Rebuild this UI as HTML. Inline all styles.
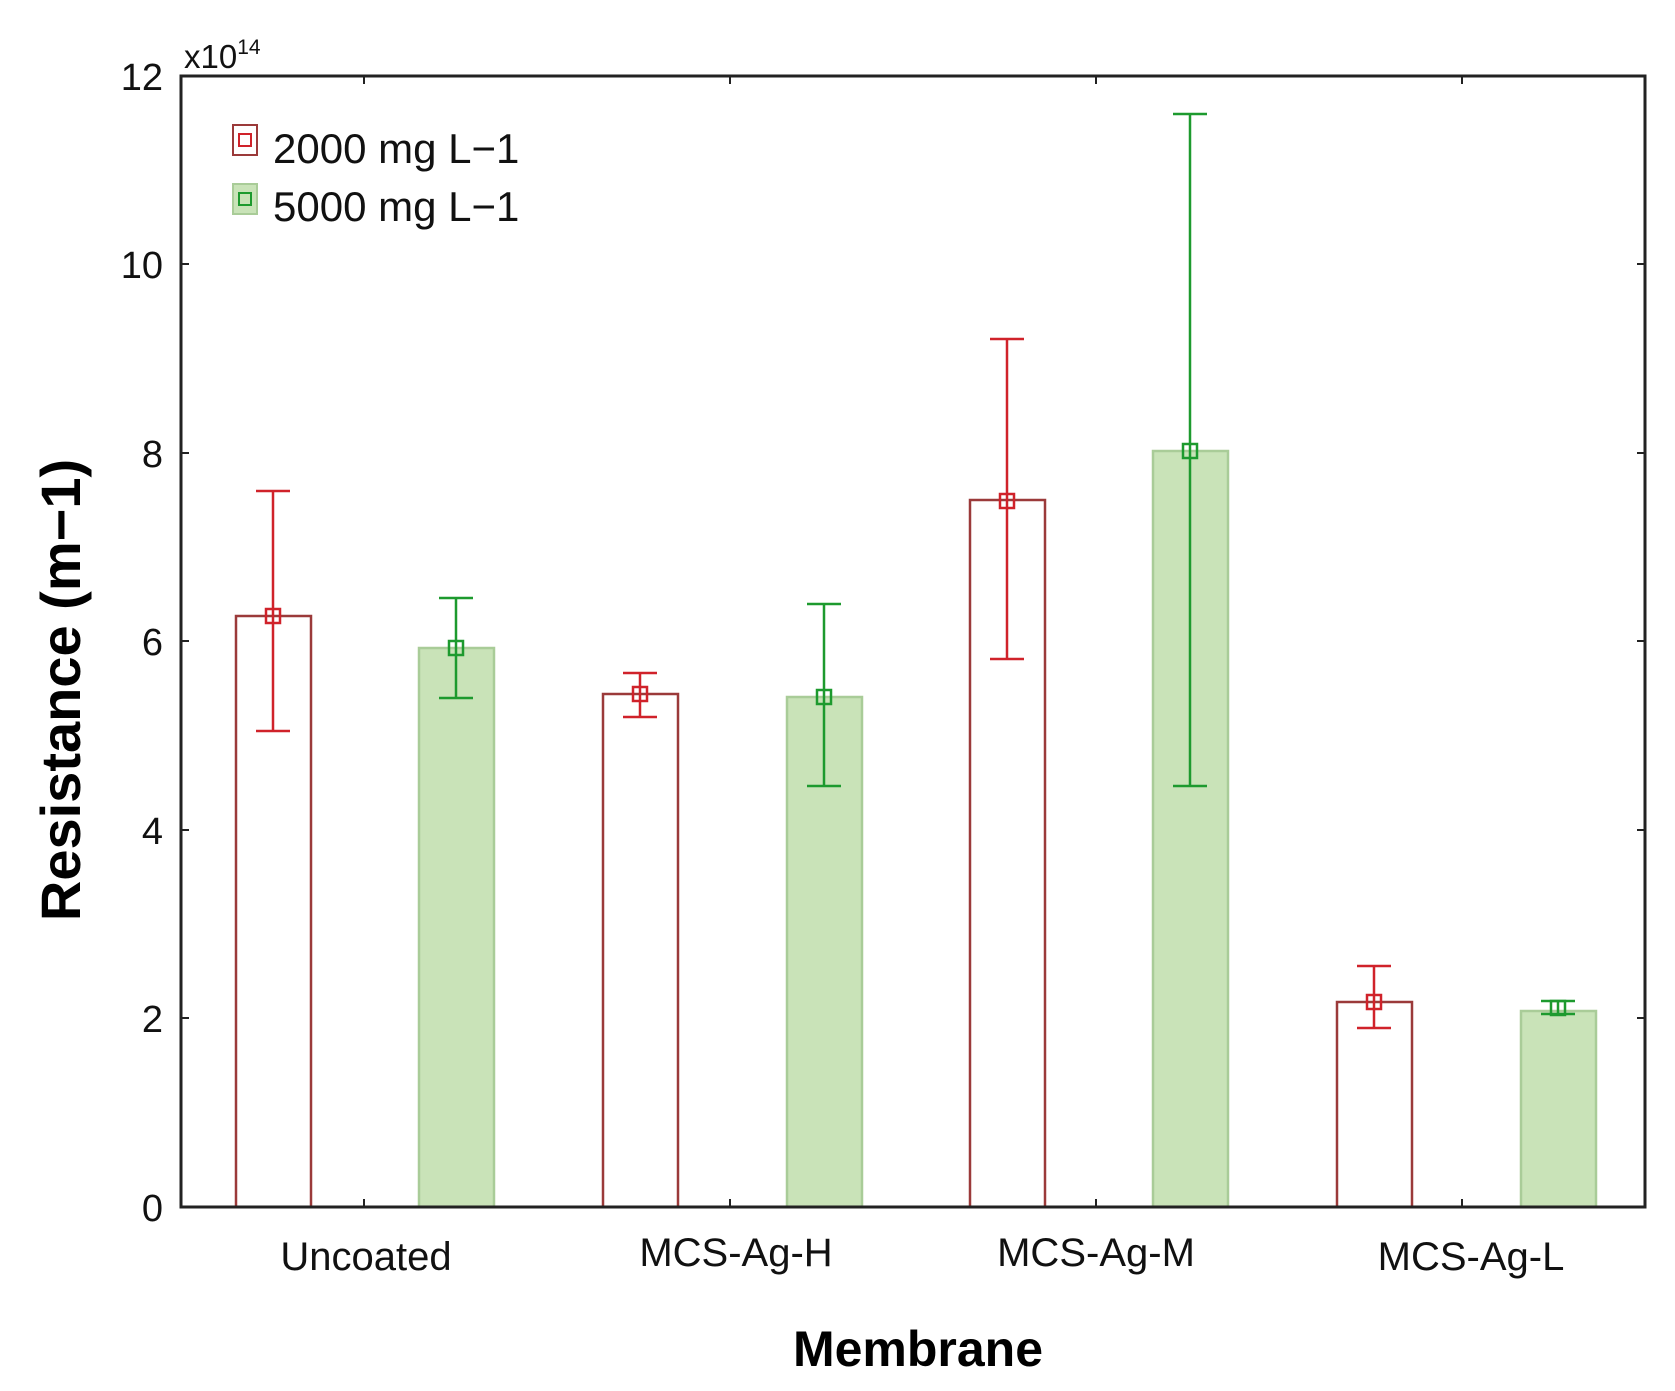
<!DOCTYPE html>
<html><head><meta charset="utf-8"><style>
html,body{margin:0;padding:0;background:#fff;}
svg{display:block;font-family:"Liberation Sans",Arial,sans-serif;}
</style></head><body>
<svg width="1675" height="1391" viewBox="0 0 1675 1391" xmlns="http://www.w3.org/2000/svg">
<g stroke-width="2.5">
<rect x="236" y="616" width="75" height="591" fill="#fff" stroke="#9b3a3a"/>
<rect x="419" y="648" width="75" height="559" fill="#c9e3b8" stroke="#a9cc98"/>
<rect x="603" y="694" width="75" height="513" fill="#fff" stroke="#9b3a3a"/>
<rect x="787" y="697" width="75" height="510" fill="#c9e3b8" stroke="#a9cc98"/>
<rect x="970" y="500" width="75" height="707" fill="#fff" stroke="#9b3a3a"/>
<rect x="1153" y="451" width="75" height="756" fill="#c9e3b8" stroke="#a9cc98"/>
<rect x="1337" y="1002" width="75" height="205" fill="#fff" stroke="#9b3a3a"/>
<rect x="1521" y="1011" width="75" height="196" fill="#c9e3b8" stroke="#a9cc98"/>
</g>
<g stroke="#d0222a" stroke-width="2.5" fill="none">
<path d="M273 491V731M256 491H290M256 731H290"/><rect x="266" y="609" width="14" height="14"/>
<path d="M640 673V717M623 673H657M623 717H657"/><rect x="633" y="687" width="14" height="14"/>
<path d="M1007 339V659M990 339H1024M990 659H1024"/><rect x="1000" y="494" width="14" height="14"/>
<path d="M1374 966V1028M1357 966H1391M1357 1028H1391"/><rect x="1367" y="995" width="14" height="14"/>
</g>
<g stroke="#1d9a2e" stroke-width="2.5" fill="none">
<path d="M456 598V698M439 598H473M439 698H473"/><rect x="449" y="641" width="14" height="14"/>
<path d="M824 604V786M807 604H841M807 786H841"/><rect x="817" y="690" width="14" height="14"/>
<path d="M1190 114V786M1173 114H1207M1173 786H1207"/><rect x="1183" y="444" width="14" height="14"/>
<path d="M1558 1001V1014M1541 1001H1575M1541 1014H1575"/><rect x="1551" y="1001" width="14" height="14"/>
</g>
<rect x="181" y="76" width="1464" height="1131" fill="none" stroke="#222" stroke-width="3"/>
<g stroke="#222" stroke-width="2">
<path d="M181 1018h8M181 830h8M181 641h8M181 453h8M181 264h8"/>
<path d="M1645 1018h-8M1645 830h-8M1645 641h-8M1645 453h-8M1645 264h-8"/>
<path d="M364 1207v-8M730 1207v-8M1096 1207v-8M1462 1207v-8"/>
<path d="M364 76v8M730 76v8M1096 76v8M1462 76v8"/>
</g>
<g font-size="38" text-anchor="end" fill="#111">
<text x="163" y="1221">0</text>
<text x="163" y="1032">2</text>
<text x="163" y="844">4</text>
<text x="163" y="655">6</text>
<text x="163" y="467">8</text>
<text x="163" y="278">10</text>
<text x="163" y="90">12</text>
</g>
<text x="184" y="68" font-size="33" fill="#111">x10<tspan font-size="21" dy="-14">14</tspan></text>
<g font-size="40" text-anchor="middle" fill="#111">
<text x="366" y="1270">Uncoated</text>
<text x="736" y="1266">MCS-Ag-H</text>
<text x="1096" y="1266">MCS-Ag-M</text>
<text x="1471" y="1270">MCS-Ag-L</text>
</g>
<text x="918" y="1366" font-size="50" font-weight="bold" text-anchor="middle" fill="#000">Membrane</text>
<text transform="translate(80,690) rotate(-90)" font-size="56" font-weight="bold" text-anchor="middle" fill="#000">Resistance (m−1)</text>
<rect x="233" y="125" width="24" height="30" fill="#fff" stroke="#9b3a3a" stroke-width="2"/>
<rect x="239" y="134" width="12" height="12" fill="none" stroke="#d0222a" stroke-width="2"/>
<rect x="233" y="184" width="24" height="30" fill="#c9e3b8" stroke="#a9cc98" stroke-width="2"/>
<rect x="239" y="193" width="12" height="12" fill="none" stroke="#1d9a2e" stroke-width="2"/>
<text x="273" y="163" font-size="42" fill="#111">2000 mg L−1</text>
<text x="273" y="221" font-size="42" fill="#111">5000 mg L−1</text>
</svg>
</body></html>
